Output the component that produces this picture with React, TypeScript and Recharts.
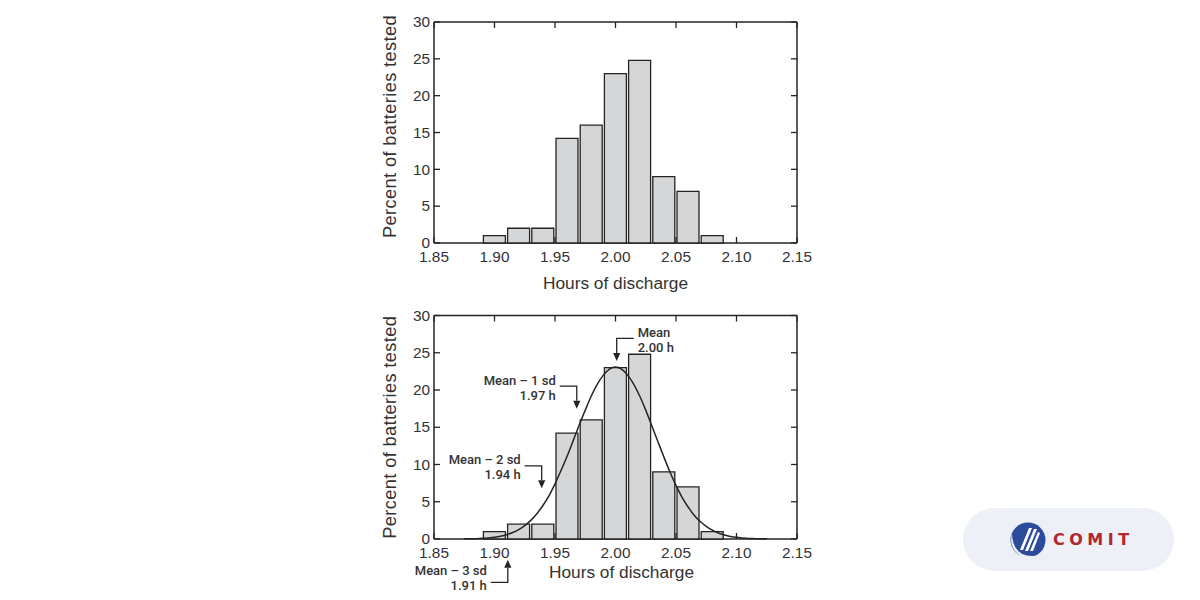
import React from "react";
import { ComposedChart, Bar, Line, XAxis, YAxis, ReferenceDot, Label } from "recharts";

// histogram: centre of each 0.02 h bin and percent of batteries in it
const binHours = [1.9, 1.92, 1.94, 1.96, 1.98, 2.0, 2.02, 2.04, 2.06, 2.08];
const binPercent = [1, 2, 2, 14.2, 16, 23, 24.8, 9, 7, 1];

const hourTicks = [1.85, 1.9, 1.95, 2.0, 2.05, 2.1, 2.15];
const percentTicks = [0, 5, 10, 15, 20, 25, 30];

// bell curve of the lower panel
const curveHours = [
  1.875, 1.88, 1.885, 1.89, 1.895, 1.9, 1.905, 1.91, 1.915, 1.92, 1.925, 1.93, 1.935,
  1.94, 1.945, 1.95, 1.955, 1.96, 1.965, 1.97, 1.975, 1.98, 1.985, 1.99, 1.995, 2.0,
  2.005, 2.01, 2.015, 2.02, 2.025, 2.03, 2.035, 2.04, 2.045, 2.05, 2.055, 2.06, 2.065,
  2.07, 2.075, 2.08, 2.085, 2.09, 2.095, 2.1, 2.105, 2.11, 2.115, 2.12, 2.125,
];
const curvePercent = [
  0.02, 0.03, 0.05, 0.09, 0.15, 0.24, 0.38, 0.58, 0.87, 1.26, 1.8, 2.5, 3.4,
  4.5, 5.8, 7.4, 9.2, 11.1, 13.2, 15.3, 17.3, 19.2, 20.8, 22.0, 22.8, 23.1,
  22.8, 22.0, 20.8, 19.2, 17.3, 15.2, 13.1, 11.0, 9.0, 7.2, 5.6, 4.3, 3.2,
  2.35, 1.7, 1.18, 0.8, 0.54, 0.35, 0.22, 0.14, 0.08, 0.05, 0.03, 0.02,
];

// arrow notes on the lower panel
const noteLines = [
  ["Mean", "2.00 h"],
  ["Mean – 1 sd", "1.97 h"],
  ["Mean – 2 sd", "1.94 h"],
  ["Mean – 3 sd", "1.91 h"],
];
const noteHours = [2.001, 1.968, 1.939, 1.911];
const notePercent = [23.9, 17.5, 6.8, -2.8];

const bins = binHours.map((h, i) => ({ h, pct: binPercent[i] }));
const curve = curveHours.map((h, i) => ({ h, pct: curvePercent[i] }));

const FONT = "'Liberation Sans', Arial, sans-serif";
const NOTE_FONT = "Roboto, 'Liberation Sans', sans-serif";
const INK = "#242424";
const TEXT = "#333";
const BAR_FILL = "#d4d6d8";

const W = 460;
const H = 300;
const LEFT = 74;
const RIGHT = 23;
const PLOT_W = W - LEFT - RIGHT;

const frame = { stroke: INK, strokeWidth: 1.5 };

// bottom labels plus the inward ticks on the bottom and top edges
const bottomTick = (plotH: number) => ({ x, y, payload }: any) => (
  <g>
    <line x1={x} y1={y} x2={x} y2={y - 6} stroke={INK} strokeWidth={1.3} />
    <line x1={x} y1={y - plotH} x2={x} y2={y - plotH + 6} stroke={INK} strokeWidth={1.3} />
    <text x={x} y={y + 18.8} textAnchor="middle" fontSize={15.4} fill={TEXT} fontFamily={FONT}>
      {Number(payload.value).toFixed(2)}
    </text>
  </g>
);

// left labels plus the inward ticks on the left and right edges
const leftTick = ({ x, y, payload }: any) => (
  <g>
    <line x1={x} y1={y} x2={x + 6} y2={y} stroke={INK} strokeWidth={1.3} />
    <line x1={x + PLOT_W} y1={y} x2={x + PLOT_W - 6} y2={y} stroke={INK} strokeWidth={1.3} />
    <text x={x - 4} y={y + 5.2} textAnchor="end" fontSize={15.4} fill={TEXT} fontFamily={FONT}>
      {payload.value}
    </text>
  </g>
);

const xTitle = (dx: number, dy: number) => (props: any) => {
  const vb = props.viewBox;
  return (
    <text x={vb.x + vb.width / 2 + dx} y={vb.y + dy} textAnchor="middle" fontSize={17.3} fill={TEXT} fontFamily={FONT}>
      Hours of discharge
    </text>
  );
};

const yTitle = (dy: number) => (props: any) => {
  const vb = props.viewBox;
  const cx = vb.x + 30;
  const cy = vb.y + vb.height / 2 + dy;
  return (
    <text
      x={cx}
      y={cy}
      dy="0.35em"
      transform={`rotate(-90, ${cx}, ${cy})`}
      textAnchor="middle"
      fontSize={18.2}
      letterSpacing={0.4}
      fill={TEXT}
      fontFamily={FONT}
    >
      Percent of batteries tested
    </text>
  );
};

const noteShape = (i: number) => (props: any) => {
  const { cx, cy } = props;
  const up = notePercent[i] < 0;
  const s = up ? 1 : -1;
  const side = i === 0 ? 1 : -1;
  const ey = cy + s * 22.5;
  const ex = cx + side * 17;
  const tx = ex + side * 4;
  const head = cy + s * 8;
  const rows = up ? [ey - 12, ey + 3] : [ey - 6, ey + 9];
  return (
    <g>
      <polyline points={`${ex},${ey} ${cx},${ey} ${cx},${head}`} fill="none" stroke={INK} strokeWidth={1.3} />
      <polygon points={`${cx},${cy} ${cx - 3.6},${head} ${cx + 3.6},${head}`} fill={INK} />
      {noteLines[i].map((t, k) => (
        <text
          key={k}
          x={tx}
          y={rows[k] + 4.6}
          textAnchor={side > 0 ? "start" : "end"}
          fontSize={13}
          fontWeight={500}
          fill={TEXT}
          fontFamily={NOTE_FONT}
        >
          {t}
        </text>
      ))}
    </g>
  );
};

const layer: React.CSSProperties = { position: "absolute", left: 0, top: 0 };

function Panel({ plotTop, axisH, titleDx, titleDy, yDy, notes }: any) {
  const plotH = H - plotTop - axisH;
  const plotMargin = { top: plotTop, right: RIGHT, bottom: axisH, left: LEFT };
  return (
    <div style={{ position: "relative", width: W, height: H }}>
      {/* frame, ticks and titles */}
      <div style={layer}>
        <ComposedChart width={W} height={H} data={bins} margin={{ top: plotTop - 1, right: RIGHT - 1, bottom: 0, left: 0 }}>
          <XAxis
            dataKey="h"
            type="number"
            domain={[1.85, 2.15]}
            ticks={hourTicks}
            interval={0}
            height={axisH}
            tickSize={0}
            tickMargin={0}
            tickLine={false}
            axisLine={frame}
            tick={bottomTick(plotH)}
          >
            <Label content={xTitle(titleDx, titleDy)} />
          </XAxis>
          <XAxis xAxisId="top" orientation="top" dataKey="h" type="number" domain={[1.85, 2.15]} height={1} tick={false} tickLine={false} axisLine={frame} />
          <YAxis
            type="number"
            domain={[0, 30]}
            ticks={percentTicks}
            interval={0}
            width={LEFT}
            tickSize={0}
            tickMargin={0}
            tickLine={false}
            axisLine={frame}
            tick={leftTick}
          >
            <Label content={yTitle(yDy)} />
          </YAxis>
          <YAxis yAxisId="right" orientation="right" type="number" domain={[0, 30]} width={1} tick={false} tickLine={false} axisLine={frame} />
          <Bar dataKey="pct" barSize={22} fill="none" stroke="none" isAnimationActive={false} />
        </ComposedChart>
      </div>
      {/* histogram bars, above the bottom ticks */}
      <div style={layer}>
        <ComposedChart width={W} height={H} data={bins} margin={plotMargin}>
          <XAxis dataKey="h" type="number" domain={[1.85, 2.15]} ticks={hourTicks} hide />
          <YAxis type="number" domain={[0, 30]} ticks={percentTicks} hide />
          <Bar dataKey="pct" barSize={22} fill={BAR_FILL} stroke={INK} strokeWidth={1.3} isAnimationActive={false} />
        </ComposedChart>
      </div>
      {/* fitted curve and arrow notes */}
      {notes && (
        <div style={layer}>
          <ComposedChart width={W} height={H} data={curve} margin={plotMargin}>
            <XAxis dataKey="h" type="number" domain={[1.85, 2.15]} hide />
            <YAxis type="number" domain={[0, 30]} hide />
            <Line dataKey="pct" type="monotone" stroke={INK} strokeWidth={1.5} dot={false} isAnimationActive={false} />
            {noteHours.map((h, i) => (
              <ReferenceDot key={i} x={h} y={notePercent[i]} r={0} ifOverflow="visible" shape={noteShape(i)} />
            ))}
          </ComposedChart>
        </div>
      )}
    </div>
  );
}

export default function App() {
  return (
    <div style={{ position: "absolute", left: 0, top: 0, width: 1200, height: 600, background: "#fff", overflow: "hidden" }}>
      <div style={{ position: "absolute", left: 360, top: 0 }}>
        <Panel plotTop={22} axisH={57} titleDx={0} titleDy={46} yDy={-6} notes={false} />
      </div>
      <div style={{ position: "absolute", left: 360, top: 300 }}>
        <Panel plotTop={15.5} axisH={61} titleDx={6} titleDy={38.5} yDy={0} notes={true} />
      </div>

      <div style={{ position: "absolute", left: 963, top: 508, width: 211, height: 63, borderRadius: 32, background: "#eef0f8" }} />
      <svg style={{ position: "absolute", left: 1006, top: 519 }} width={46} height={44}>
        <circle cx={22} cy={21} r={17.5} fill="#2c4b9b" />
        <path d="M14 31 L23 9 L26 9 L17 31 Z" fill="#fff" />
        <path d="M19 32 L28 10 L31 10 L22 32 Z" fill="#fff" />
        <path d="M24 32 L32 13 L34 14 L27 32 Z" fill="#fff" />
        <path d="M6 14 Q2 30 16 38 Q30 43 40 33 Q28 40 16 35 Q6 29 6 14 Z" fill="#eef0f8" />
      </svg>
      <div
        style={{
          position: "absolute",
          left: 1053,
          top: 530,
          fontFamily: "'DejaVu Sans', sans-serif",
          fontWeight: 700,
          fontSize: 16,
          letterSpacing: 4.5,
          color: "#b0272f",
          lineHeight: "20px",
        }}
      >
        COMIT
      </div>
    </div>
  );
}
